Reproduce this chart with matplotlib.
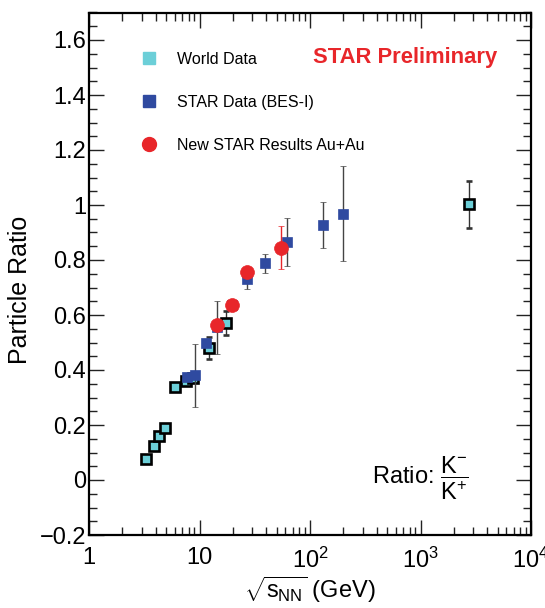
import matplotlib
matplotlib.use("Agg")
import matplotlib.pyplot as plt
from matplotlib.lines import Line2D
from matplotlib.ticker import FixedLocator, FixedFormatter, MultipleLocator, LogLocator, NullFormatter

plt.rcParams['font.family'] = ['Liberation Sans', 'DejaVu Sans']
plt.rcParams['mathtext.fontset'] = 'custom'
plt.rcParams['mathtext.rm'] = 'Liberation Sans'
plt.rcParams['mathtext.it'] = 'Liberation Sans'
plt.rcParams['mathtext.bf'] = 'Liberation Sans:bold'

# ---- data ----
world_x = [3.3, 3.85, 4.3, 4.9, 6.0, 7.6, 8.8, 12.3, 17.3, 2760]
world_y = [0.077, 0.124, 0.160, 0.190, 0.337, 0.360, 0.372, 0.479, 0.570, 1.002]
world_err = [0.0, 0.0, 0.0, 0.0, 0.0, 0.0, 0.0, 0.040, 0.043, 0.084]

star_x = [7.7, 9.2, 11.5, 14.5, 19.6, 27, 39, 62.4, 130, 200]
star_y = [0.373, 0.381, 0.499, 0.555, 0.635, 0.730, 0.788, 0.864, 0.927, 0.968]
star_err = [0.012, 0.114, 0.010, 0.097, 0.012, 0.035, 0.034, 0.087, 0.085, 0.173]

new_x = [14.5, 19.6, 27, 54.4]
new_y = [0.5625, 0.636, 0.755, 0.845]
new_err = [0.015, 0.015, 0.020, 0.078]

legend_labels = ["World Data", "STAR Data (BES-I)", "New STAR Results Au+Au"]
x_tick_vals = [1, 10, 100, 1000, 10000]
x_tick_labels = ["1", "10", r"$10^{2}$", r"$10^{3}$", r"$10^{4}$"]
y_tick_vals = [-0.2, 0, 0.2, 0.4, 0.6, 0.8, 1.0, 1.2, 1.4, 1.6]
y_tick_labels = ["\u22120.2", "0", "0.2", "0.4", "0.6", "0.8", "1", "1.2", "1.4", "1.6"]

c_world = "#6ccfd8"
c_star = "#2f4aa0"
c_new = "#e8262a"

W, H = 545, 608
fig = plt.figure(figsize=(W / 100, H / 100), dpi=100)
L, R, T, B = 89, 531, 12.5, 535
ax = fig.add_axes([L / W, (H - B) / H, (R - L) / W, (B - T) / H])

ax.set_xscale('log')
ax.set_xlim(1, 1e4)
ax.set_ylim(-0.2, 1.7)

ax.errorbar(world_x, world_y, yerr=world_err, fmt='s', ms=7.3, mfc=c_world,
            mec='black', mew=1.9, ecolor='#333333', elinewidth=1.0, capsize=2,
            capthick=1.0, zorder=3)
ax.errorbar(star_x, star_y, yerr=star_err, fmt='s', ms=7.9, mfc=c_star,
            mec=c_star, mew=0.5, ecolor='#444444', elinewidth=1.0, capsize=2,
            capthick=1.0, zorder=4)
ax.errorbar(new_x, new_y, yerr=new_err, fmt='o', ms=10, mfc=c_new,
            mec=c_new, mew=0.5, ecolor=c_new, elinewidth=1.0, capsize=2,
            capthick=1.0, zorder=5)

# ticks
ax.xaxis.set_major_locator(FixedLocator(x_tick_vals))
ax.xaxis.set_major_formatter(FixedFormatter(x_tick_labels))
ax.xaxis.set_minor_locator(LogLocator(base=10, subs=range(2, 10), numticks=20))
ax.xaxis.set_minor_formatter(NullFormatter())
ax.yaxis.set_major_locator(FixedLocator(y_tick_vals))
ax.yaxis.set_major_formatter(FixedFormatter(y_tick_labels))
ax.yaxis.set_minor_locator(MultipleLocator(0.05))

ax.tick_params(which='both', direction='in', top=True, right=True, color='#222222')
ax.tick_params(which='major', length=11, width=1.0, labelsize=17)
ax.tick_params(which='minor', length=5.5, width=1.0)
ax.tick_params(axis='y', which='major', pad=2)
ax.tick_params(axis='x', which='major', pad=9)
for sp in ax.spines.values():
    sp.set_linewidth(1.6)

ax.set_ylabel("Particle Ratio", fontsize=18)
ax.yaxis.set_label_coords(-0.128, 0.47)
ax.set_xlabel(r"$\sqrt{s_{\mathrm{NN}}}$ (GeV)", fontsize=17, labelpad=1)

# legend
handles = [
    Line2D([], [], ls='none', marker='s', ms=8.4, mfc=c_world, mec=c_world),
    Line2D([], [], ls='none', marker='s', ms=8.4, mfc=c_star, mec=c_star),
    Line2D([], [], ls='none', marker='o', ms=10, mfc=c_new, mec=c_new),
]
ax.legend(handles, legend_labels, loc='upper left',
          bbox_to_anchor=((141 - L) / (R - L), (B - 52) / (B - T)),
          frameon=False, fontsize=11.5, handlelength=1.0, handletextpad=1.25,
          labelspacing=1.75, borderpad=0, borderaxespad=0)

ax.text((313 - L) / (R - L), (B - 58) / (B - T), "STAR Preliminary",
        transform=ax.transAxes, color=c_new, fontsize=15.8, fontweight='bold',
        ha='left', va='center')

ax.text((372 - L) / (R - L), (B - 478) / (B - T),
        r"Ratio: $\dfrac{\mathrm{K}^{-}}{\mathrm{K}^{+}}$",
        transform=ax.transAxes, fontsize=17, ha='left', va='center')

fig.savefig("out.png", dpi=100)
